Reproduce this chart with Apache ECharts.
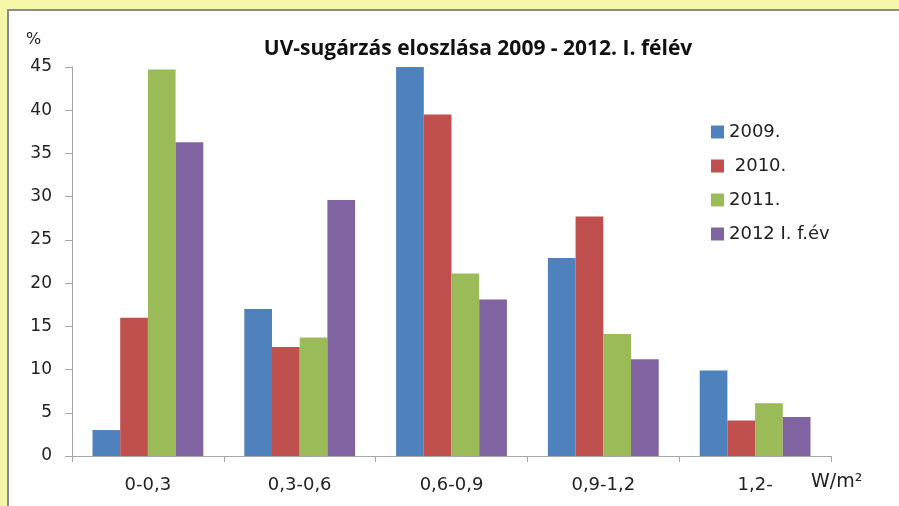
<!DOCTYPE html>
<html>
<head>
<meta charset="utf-8">
<script src="https://cdn.jsdelivr.net/npm/echarts@6/dist/echarts.min.js"></script>
<style>
  html, body { margin: 0; padding: 0; }
  #chart { width: 899px; height: 506px; }
</style>
</head>
<body>
<div id="chart"></div>
<script>
// kategóriák (W/m2 sávok)
var categories = ['0-0,3', '0,3-0,6', '0,6-0,9', '0,9-1,2', '1,2-'];
var yTicks = [0, 5, 10, 15, 20, 25, 30, 35, 40, 45];

var v2009 = [3.0, 17.0, 45.0, 22.9, 9.9];
var v2010 = [16.0, 12.6, 39.5, 27.7, 4.1];
var v2011 = [44.7, 13.7, 21.1, 14.1, 6.1];
var v2012 = [36.3, 29.6, 18.1, 11.2, 4.5];

var names = ['2009.', ' 2010.', '2011.', '2012 I. f.év'];
var colors = ['#4f81bd', '#c0504d', '#9bbb59', '#8064a2'];

var chart = echarts.init(document.getElementById('chart'));

var series = [v2009, v2010, v2011, v2012].map(function (d, i) {
  return {
    name: names[i],
    type: 'bar',
    data: d,
    barGap: '0%',
    barCategoryGap: '27%',
    itemStyle: { color: colors[i] }
  };
});

var option = {
  backgroundColor: '#f7f7aa',
  animation: false,
  color: colors,
  graphic: [
    {
      type: 'rect',
      z: -10,
      shape: { x: 8, y: 10, width: 1000, height: 600 },
      style: { fill: '#ffffff', stroke: '#8c8c8c', lineWidth: 2 }
    },
    {
      type: 'text',
      left: 26, top: 32,
      style: { text: '%', font: '16px "DejaVu Sans"', fill: '#222' }
    },
    {
      type: 'text',
      left: 811, top: 473,
      style: { text: 'W/m²', font: '19px "DejaVu Sans"', fill: '#222' }
    }
  ],
  title: {
    text: 'UV-sugárzás eloszlása 2009 - 2012. I. félév',
    left: 473,
    textAlign: 'center',
    top: 34,
    textStyle: { fontFamily: 'Open Sans', fontWeight: 'bold', fontSize: 21, color: '#111' }
  },
  legend: {
    orient: 'vertical',
    left: 706,
    top: 118,
    itemWidth: 13,
    itemHeight: 13,
    itemGap: 16,
    icon: 'rect',
    textStyle: { fontFamily: 'DejaVu Sans', fontSize: 18, color: '#222' },
    data: names
  },
  grid: { left: 72, right: 68, top: 67, bottom: 50 },
  xAxis: {
    type: 'category',
    data: categories,
    axisLine: { lineStyle: { color: '#a6a6a6', width: 1 } },
    axisTick: { show: true, length: 6, lineStyle: { color: '#a6a6a6' } },
    axisLabel: { margin: 20, fontFamily: 'DejaVu Sans', fontSize: 18, color: '#222' }
  },
  yAxis: {
    type: 'value',
    min: yTicks[0],
    max: yTicks[yTicks.length - 1],
    interval: 5,
    axisLine: { show: true, lineStyle: { color: '#a6a6a6', width: 1 } },
    axisTick: { show: true, length: 7, lineStyle: { color: '#a6a6a6' } },
    splitLine: { show: false },
    axisLabel: { margin: 20, fontFamily: 'DejaVu Sans', fontSize: 17, color: '#222' }
  },
  series: series
};

chart.setOption(option);
</script>
</body>
</html>
